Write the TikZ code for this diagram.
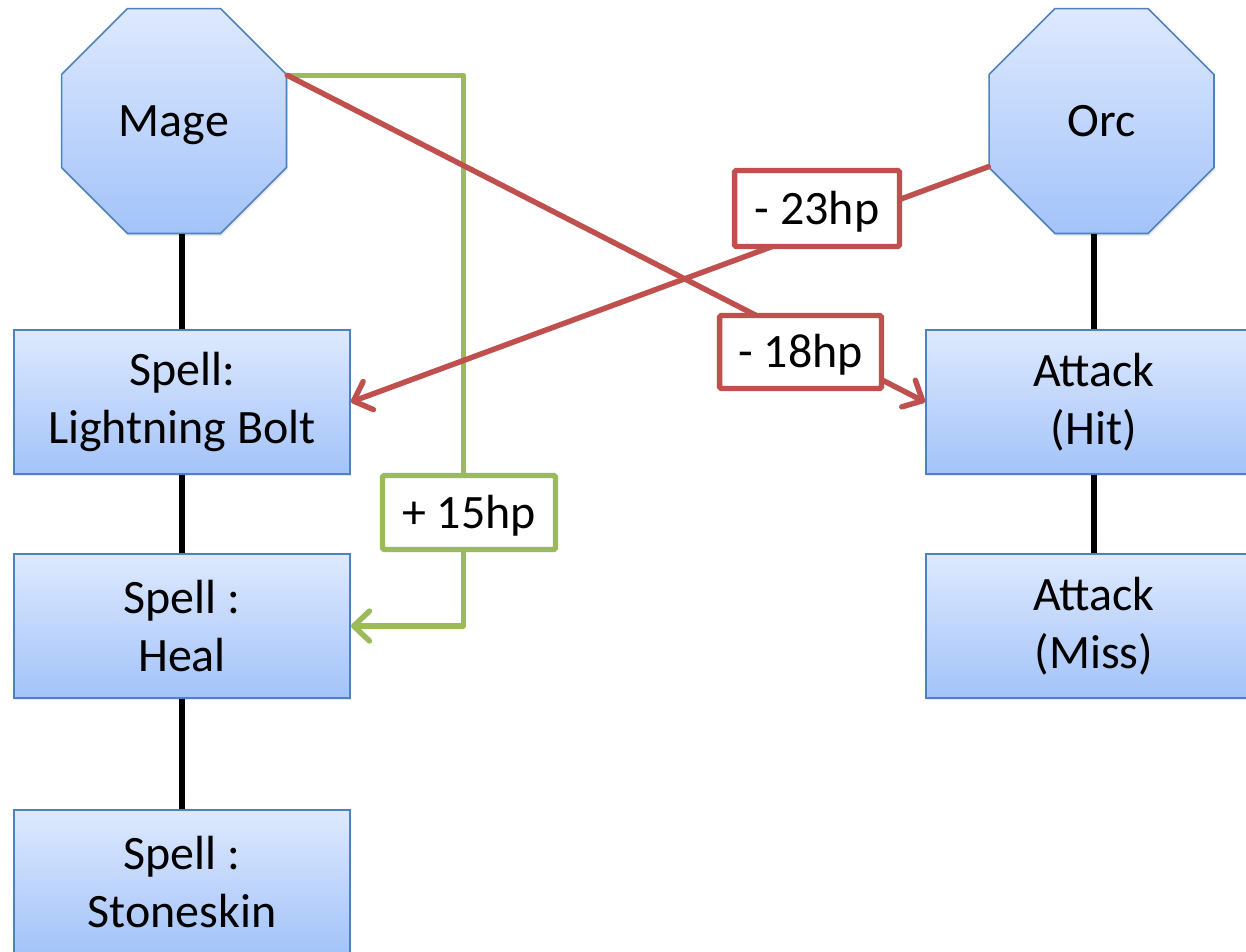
\documentclass[tikz,border=0pt]{standalone}
\usepackage{fontspec}
\setmainfont{Carlito}
\usetikzlibrary{shapes.geometric,arrows.meta,shadows,calc}
\definecolor{boxtop}{RGB}{222,233,253}
\definecolor{boxbot}{RGB}{163,195,249}
\definecolor{boxblue}{RGB}{79,129,189}
\definecolor{dmgred}{RGB}{192,80,77}
\definecolor{healgreen}{RGB}{155,187,89}
\begin{document}
\begin{tikzpicture}[x=0.02cm,y=-0.02cm,
  every node/.style={font=\fontsize{27.3}{33}\selectfont},
  softshadow/.style={drop shadow={opacity=0.18,shadow xshift=0.6pt,shadow yshift=-1.4pt}},
  charnode/.style={regular polygon, regular polygon sides=8, minimum size=4.87cm,
    draw=boxblue, line width=0.9pt, top color=boxtop, bottom color=boxbot,
    inner sep=0pt, text height=18.2pt, text depth=0pt, softshadow},
  actbox/.style={rectangle, minimum width=6.72cm, minimum height=2.88cm,
    draw=boxblue, line width=1.1pt, top color=boxtop, bottom color=boxbot,
    align=center, inner sep=0pt, softshadow},
  treeline/.style={line width=3.3pt, black},
  dmgline/.style={line width=3.1pt, dmgred, line cap=round, line join=round,
    -{Straight Barb[length=9pt,width=17pt,line cap=round,line join=round]}},
  healline/.style={line width=3.1pt, healgreen, line cap=round, line join=round,
    -{Straight Barb[length=9pt,width=17pt,line cap=round,line join=round]}},
  lblbox/.style={rectangle, fill=white, line width=3.1pt, rounded corners=1pt,
    inner sep=0pt, text height=18.2pt, text depth=0pt, softshadow}
]
\useasboundingbox (0,0) rectangle (1246,951);

% characters
\node[charnode] (mage) at (174,121) {Mage};
\node[charnode] (orc) at (1101.5,121) {Orc};

% actions
\node[actbox] (lb) at (182,402) {Spell:\\Lightning Bolt};
\node[actbox] (heal) at (182,626) {Spell :\\Heal};
\node[actbox] (stone) at (182,882) {Spell :\\Stoneskin};
\node[actbox] (hit) at (1094,402) {Attack\\(Hit)};
\node[actbox] (miss) at (1094,626) {Attack\\(Miss)};

% tree lines
\draw[treeline] (lb.north) -- (lb.north |- mage.south);
\draw[treeline] (lb.south) -- (heal.north);
\draw[treeline] (heal.south) -- (stone.north);
\draw[treeline] (hit.north) -- (hit.north |- orc.south);
\draw[treeline] (hit.south) -- (miss.north);

% effects
\draw[healline] (mage.22.5) -- ++(176,0) |- (heal.east);
\draw[dmgline] (mage.22.5) -- (hit.west);
\draw[dmgline] (orc.202.5) -- (lb.east);

% labels
\node[lblbox, draw=dmgred, minimum width=3.3cm, minimum height=1.52cm] (l23) at (817,208.5) {- 23hp};
\node[lblbox, draw=dmgred, minimum width=3.24cm, minimum height=1.46cm] (l18) at (800.5,352) {- 18hp};
\node[lblbox, draw=healgreen, minimum width=3.46cm, minimum height=1.48cm] (l15) at (469,512.5) {+ 15hp};
\end{tikzpicture}
\end{document}
